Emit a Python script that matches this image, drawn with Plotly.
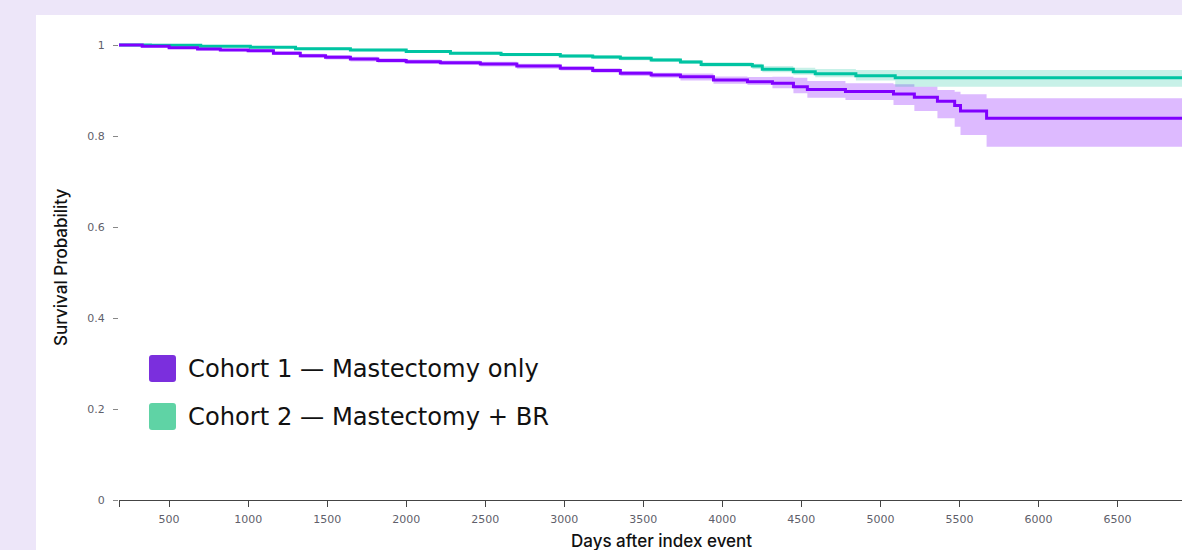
import plotly.graph_objects as go

# ---------------- data ----------------
times1 = [183, 330, 500, 680, 824, 1000, 1160, 1330, 1490, 1647, 1820, 2000, 2216, 2469, 2700,
          2975, 3180, 3355, 3550, 3735, 3944, 4159, 4317, 4450, 4538, 4779, 5083, 5215, 5361,
          5470, 5507, 5672, 7100]
surv1 = [1.0, 0.997, 0.994, 0.991, 0.989, 0.9875, 0.982, 0.9765, 0.973, 0.969, 0.966, 0.9633,
         0.961, 0.958, 0.954, 0.9488, 0.944, 0.9378, 0.934, 0.9303, 0.9231, 0.9193, 0.9158,
         0.9084, 0.902, 0.898, 0.8925, 0.885, 0.8765, 0.867, 0.855, 0.8389, 0.8389]
lower1 = [1.0, 0.995, 0.992, 0.988, 0.986, 0.984, 0.978, 0.972, 0.968, 0.964, 0.961, 0.958,
          0.956, 0.953, 0.948, 0.944, 0.939, 0.9319, 0.928, 0.922, 0.915, 0.9121, 0.905,
          0.8938, 0.8842, 0.8791, 0.8681, 0.8549, 0.8389, 0.8205, 0.8022, 0.7765, 0.7765]
upper1 = [1.0, 0.999, 0.996, 0.994, 0.992, 0.991, 0.986, 0.981, 0.978, 0.974, 0.971, 0.968,
          0.966, 0.963, 0.959, 0.9527, 0.949, 0.9429, 0.939, 0.9374, 0.931, 0.9297, 0.9303,
          0.9281, 0.9209, 0.9158, 0.9136, 0.9084, 0.9011, 0.8974, 0.8916, 0.8828, 0.8828]

times2 = [183, 382, 700, 1014, 1300, 1647, 2000, 2280, 2600, 2975, 3180, 3355, 3550, 3735,
          3866, 4190, 4253, 4449, 4588, 4845, 5094, 7100]
surv2 = [1.0, 0.9995, 0.997, 0.9949, 0.992, 0.989, 0.9855, 0.9818, 0.979, 0.9758, 0.9735,
         0.9708, 0.967, 0.9626, 0.9574, 0.9538, 0.9466, 0.9413, 0.937, 0.9325, 0.9281, 0.9281]
lower2 = [1.0, 0.9985, 0.9955, 0.993, 0.9895, 0.9862, 0.9825, 0.9785, 0.9755, 0.972, 0.9695,
          0.9665, 0.9625, 0.9585, 0.952, 0.9475, 0.94, 0.9345, 0.929, 0.922, 0.9084, 0.9084]
upper2 = [1.0, 1.0, 0.9985, 0.9968, 0.9945, 0.9918, 0.9885, 0.985, 0.9825, 0.9795, 0.9775,
          0.975, 0.9715, 0.967, 0.962, 0.959, 0.954, 0.9501, 0.9473, 0.9451, 0.9451, 0.9451]

series_names = ["Cohort 1 \u2014 Mastectomy only", "Cohort 2 \u2014 Mastectomy + BR"]
x_tickvals = [183, 500, 1000, 1500, 2000, 2500, 3000, 3500, 4000, 4500, 5000, 5500, 6000, 6500]
x_ticktext = ["", "500", "1000", "1500", "2000", "2500", "3000", "3500", "4000", "4500",
              "5000", "5500", "6000", "6500"]
y_tickvals = [0, 0.2, 0.4, 0.6, 0.8, 1]
y_ticktext = ["0", "0.2", "0.4", "0.6", "0.8", "1"]

# ---------------- styling ----------------
W, H = 1182, 550
L, R, T, B = 119, 0, 40, 50
PW = W - L - R
PH = H - T - B
X0 = 183
XSCALE = 0.15806  # px per day
X1 = X0 + PW / XSCALE

PURPLE = "#8000ff"
PURPLE_BAND = "rgba(128,0,255,0.27)"
TEAL = "#00c4a2"
TEAL_BAND = "rgba(0,190,150,0.22)"
LEG_PURPLE = "#7b2fdd"
LEG_TEAL = "#5fd3a5"
BG = "#ede6f9"
TITLE_FONT = "Inter, Roboto, sans-serif"
WIDE_FONT = "DejaVu Sans, Verdana, sans-serif"


def px2x(px):
    return (px - L) / PW


def py2y(py):
    return (H - B - py) / PH


fig = go.Figure()

for t, lo, hi, band in [(times1, lower1, upper1, PURPLE_BAND), (times2, lower2, upper2, TEAL_BAND)]:
    fig.add_trace(go.Scatter(x=t, y=hi, mode="lines", line=dict(width=0, shape="hv"),
                             hoverinfo="skip", showlegend=False))
    fig.add_trace(go.Scatter(x=t, y=lo, mode="lines", line=dict(width=0, shape="hv"),
                             fill="tonexty", fillcolor=band, hoverinfo="skip", showlegend=False))

fig.add_trace(go.Scatter(x=times2, y=surv2, mode="lines", name=series_names[1],
                         line=dict(color=TEAL, width=3, shape="hv"), showlegend=False))
fig.add_trace(go.Scatter(x=times1, y=surv1, mode="lines", name=series_names[0],
                         line=dict(color=PURPLE, width=3, shape="hv"), showlegend=False))

shapes = [
    dict(type="rect", xref="paper", yref="paper", layer="below",
         x0=px2x(36), x1=1.2, y0=py2y(15), y1=py2y(700),
         fillcolor="white", line=dict(width=0)),
]


def rounded_rect(x0, y0, x1, y1, r):
    # pixel coordinates -> paper path with rounded corners
    pts = [
        ("M", x0 + r, y0), ("L", x1 - r, y0), ("Q", x1, y0, x1, y0 + r),
        ("L", x1, y1 - r), ("Q", x1, y1, x1 - r, y1), ("L", x0 + r, y1),
        ("Q", x0, y1, x0, y1 - r), ("L", x0, y0 + r), ("Q", x0, y0, x0 + r, y0),
    ]
    s = ""
    for p in pts:
        cmd = p[0]
        coords = p[1:]
        out = []
        for i in range(0, len(coords), 2):
            out.append(f"{px2x(coords[i]):.5f},{py2y(coords[i + 1]):.5f}")
        s += cmd + " " + " ".join(out) + " "
    return s + "Z"


legend_items = [(LEG_PURPLE, 355, series_names[0]), (LEG_TEAL, 403, series_names[1])]
annotations = []
for col, top, label in legend_items:
    shapes.append(dict(type="path", xref="paper", yref="paper",
                       path=rounded_rect(149, top, 176, top + 27, 3),
                       fillcolor=col, line=dict(width=0)))
    annotations.append(dict(xref="paper", yref="paper", x=px2x(186), y=py2y(top + 14),
                            xanchor="left", yanchor="middle", showarrow=False, text=label,
                            font=dict(family=WIDE_FONT, size=24.2, color="#111111")))

annotations.append(dict(xref="paper", yref="paper", x=px2x(661), y=py2y(541),
                        xanchor="center", yanchor="middle", showarrow=False,
                        text="Days after index event",
                        font=dict(family=TITLE_FONT, size=17, color="#111111", weight=500)))
annotations.append(dict(xref="paper", yref="paper", x=px2x(61), y=py2y(268),
                        xanchor="center", yanchor="middle", showarrow=False,
                        text="Survival Probability", textangle=-90,
                        font=dict(family=TITLE_FONT, size=17, color="#111111", weight=500)))

fig.update_layout(
    width=W, height=H,
    margin=dict(l=L, r=R, t=T, b=B, pad=0),
    paper_bgcolor=BG, plot_bgcolor="white",
    shapes=shapes, annotations=annotations,
    showlegend=False,
    xaxis=dict(range=[X0, X1], tickmode="array", tickvals=x_tickvals, ticktext=x_ticktext,
               showgrid=False, zeroline=False, showline=True, linecolor="#444444",
               linewidth=1, ticks="outside", ticklen=6, tickcolor="#444444",
               ticklabelstandoff=3,
               tickfont=dict(family=WIDE_FONT, size=11, color="#5f5f6b")),
    yaxis=dict(range=[0, PH / 455.0], tickmode="array", tickvals=y_tickvals,
               ticktext=y_ticktext, showgrid=False, zeroline=False, showline=False,
               ticks="outside", ticklen=5, tickcolor="#888888", ticklabelstandoff=6,
               tickfont=dict(family=WIDE_FONT, size=11, color="#5f5f6b")),
)

fig.write_html("out.html", config={"displayModeBar": False},
               post_script="document.body.style.margin='0px';document.body.style.overflow='hidden';document.body.style.background='" + BG + "';")
